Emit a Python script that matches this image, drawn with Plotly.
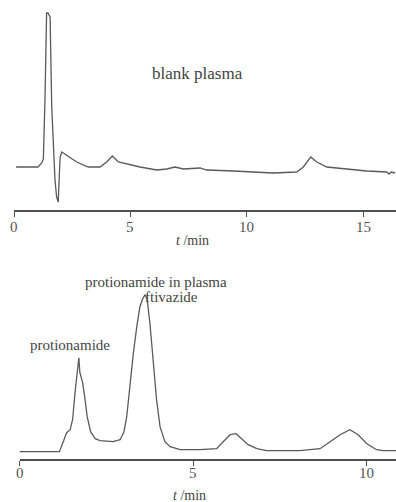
import plotly.graph_objects as go

# Top chromatogram: blank plasma
t_blank = [0.09, 1.03, 1.19, 1.26, 1.33, 1.40, 1.46, 1.55, 1.62, 1.69, 1.76, 1.83, 1.90, 1.95,
           1.98, 2.05, 2.26, 2.69, 3.19, 3.69, 3.98, 4.22, 4.48, 4.84, 5.41, 6.13, 6.56, 6.91,
           7.27, 7.99, 8.27, 9.42, 10.13, 11.13, 12.14, 12.42, 12.74, 13.00, 13.43, 14.57,
           15.14, 16.00, 16.10, 16.19, 16.36]
s_blank = [0, 0, 4, 8, 67, 154, 154, 150, 60, 17, -13, -30, -35, -6,
           10, 15, 12, 5, 0, 0, 5, 11, 5, 3, 0, -3, -2, 0,
           -2, -1, -3, -4, -5, -6, -5, 0, 10, 5, 0, -3,
           -4, -5, -7, -5, -6]

# Bottom chromatogram: protionamide in plasma
t_sample = [0.0, 1.15, 1.26, 1.36, 1.46, 1.53, 1.60, 1.67, 1.71, 1.74, 1.82, 1.89, 1.95, 2.05,
            2.18, 2.32, 2.70, 2.90, 3.01, 3.09, 3.18, 3.28, 3.38, 3.47, 3.55, 3.62, 3.68, 3.76,
            3.86, 3.95, 4.05, 4.19, 4.34, 4.63, 5.20, 5.68, 5.87, 6.07, 6.24, 6.40, 6.59, 6.84,
            7.12, 8.08, 8.37, 8.66, 8.95, 9.24, 9.52, 9.76, 10.01, 10.29, 10.48, 10.85]
s_sample = [0, 0, 10, 19, 22, 32, 59, 82, 94, 79, 69, 52, 35, 20,
            13, 11, 10, 12, 20, 35, 68, 98, 125, 145, 153, 157, 152, 128,
            88, 52, 25, 10, 5, 2, 2, 3, 10, 17, 18, 13, 7, 3,
            1, 1, 2, 3, 10, 17, 22, 17, 8, 2, 1, 1]

top_ticks = [0, 5, 10, 15]
bottom_ticks = [0, 5, 10]

W, H = 396, 502
FONT = "Liberation Serif, Times New Roman, serif"
LINE = "#5a5a5a"
AX = "#505050"

def px(x):
    return x / W

def py(y):
    return (H - y) / H

fig = go.Figure()
fig.add_trace(go.Scatter(x=t_blank, y=s_blank, mode="lines",
                         line=dict(color=LINE, width=1.3), xaxis="x", yaxis="y",
                         hoverinfo="skip", showlegend=False))
fig.add_trace(go.Scatter(x=t_sample, y=s_sample, mode="lines",
                         line=dict(color=LINE, width=1.3), xaxis="x2", yaxis="y2",
                         hoverinfo="skip", showlegend=False))

axis_common = dict(showline=True, linecolor=AX, linewidth=1.5, ticks="outside",
                   ticklen=5, tickwidth=1.3, tickcolor=AX, showgrid=False, zeroline=False,
                   showticklabels=False, automargin=False)

fig.update_layout(
    width=W, height=H,
    margin=dict(l=0, r=0, t=0, b=0),
    paper_bgcolor="white", plot_bgcolor="white",
    xaxis=dict(domain=[px(14), 1], range=[0, 16.4], anchor="y",
               tickvals=top_ticks, **axis_common),
    yaxis=dict(domain=[py(210), 1], range=[-43, 167], visible=False, anchor="x"),
    xaxis2=dict(domain=[px(19.5), 1], range=[0, 10.85], anchor="y2",
                tickvals=bottom_ticks, **axis_common),
    yaxis2=dict(domain=[py(459), py(252)], range=[-7.3, 199.7], visible=False, anchor="x2"),
)

C = dict(showarrow=False, xanchor="center", yanchor="middle")

tick_font = dict(family=FONT, size=15, color="#555555")
for v in top_ticks:
    fig.add_annotation(x=v, y=py(227), xref="x", yref="paper", text=str(v),
                       font=tick_font, **C)
for v in bottom_ticks:
    fig.add_annotation(x=v, y=py(473), xref="x2", yref="paper", text=str(v),
                       font=tick_font, **C)

ann_font = dict(family=FONT, size=15, color="#444444")
fig.add_annotation(x=7.86, y=94, xref="x", yref="y", text="blank plasma",
                   font=dict(family=FONT, size=17, color="#444444"), **C)
fig.add_annotation(x=3.93, y=169.7, xref="x2", yref="y2", text="protionamide in plasma",
                   font=ann_font, **C)
fig.add_annotation(x=4.39, y=154.7, xref="x2", yref="y2", text="ftivazide",
                   font=ann_font, **C)
fig.add_annotation(x=1.46, y=106.7, xref="x2", yref="y2", text="protionamide",
                   font=ann_font, **C)
fig.add_annotation(x=px(192), y=py(240), xref="paper", yref="paper", text="<i>t</i> /min",
                   font=dict(family=FONT, size=14, color="#444444"), **C)
fig.add_annotation(x=px(189), y=py(495), xref="paper", yref="paper", text="<i>t</i> /min",
                   font=dict(family=FONT, size=14, color="#444444"), **C)

fig.write_html("out.html", config={"displayModeBar": False},
               post_script="document.body.style.margin='0';document.body.style.padding='0';"
                           "document.documentElement.style.overflow='hidden';")
